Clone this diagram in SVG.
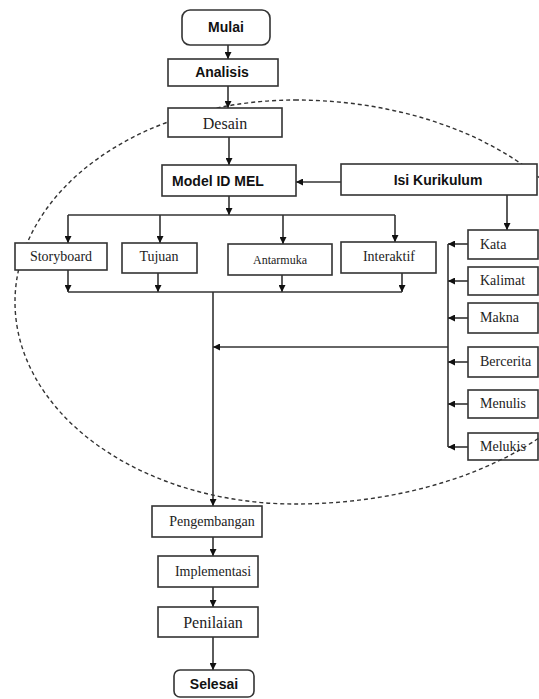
<svg xmlns="http://www.w3.org/2000/svg" width="539" height="699" viewBox="0 0 539 699">
<style>
.box{fill:#fff;stroke:#333;stroke-width:1.6}
.boxn{fill:none;stroke:#333;stroke-width:1.6}
.b{font-family:"Liberation Sans",Arial,sans-serif;font-weight:bold;font-size:14px;fill:#111;text-anchor:middle}
.s{font-family:"Liberation Serif","Times New Roman",serif;font-size:14px;fill:#222;text-anchor:middle}
.sl{font-family:"Liberation Serif","Times New Roman",serif;font-size:14px;fill:#222;text-anchor:start}
.ln{fill:none;stroke:#333;stroke-width:1.6}
.dash{fill:none;stroke:#333;stroke-width:1.4;stroke-dasharray:4 3}
</style>
<defs>
<marker id="ah" viewBox="0 0 10 10" refX="10" refY="5" markerWidth="7" markerHeight="7" markerUnits="userSpaceOnUse" orient="auto">
<path d="M0,0 L10,5 L0,10 z" fill="#111"/>
</marker>
</defs>
<rect width="539" height="699" fill="#fff"/>
<path class="dash" d="M295,100 A310,202 0 0 1 605,302 L625,302 A330,202 0 0 1 295,504 A280,202 0 0 1 15,302 A280,202 0 0 1 295,100 Z"/>
<g id="connectors">
<line class="ln" x1="228" y1="45" x2="228" y2="59" marker-end="url(#ah)"/>
<line class="ln" x1="228" y1="86" x2="228" y2="108" marker-end="url(#ah)"/>
<line class="ln" x1="229" y1="137" x2="229" y2="165" marker-end="url(#ah)"/>
<line class="ln" x1="341" y1="182" x2="296" y2="182" marker-end="url(#ah)"/>
<line class="ln" x1="229" y1="196" x2="229" y2="215" marker-end="url(#ah)"/>
<line class="ln" x1="68" y1="215" x2="395" y2="215"/>
<line class="ln" x1="68" y1="215" x2="68" y2="243" marker-end="url(#ah)"/>
<line class="ln" x1="160" y1="215" x2="160" y2="243" marker-end="url(#ah)"/>
<line class="ln" x1="283" y1="215" x2="283" y2="244" marker-end="url(#ah)"/>
<line class="ln" x1="395" y1="215" x2="395" y2="242" marker-end="url(#ah)"/>
<line class="ln" x1="68" y1="270" x2="68" y2="292" marker-end="url(#ah)"/>
<line class="ln" x1="158" y1="273" x2="158" y2="292" marker-end="url(#ah)"/>
<line class="ln" x1="282" y1="275" x2="282" y2="292" marker-end="url(#ah)"/>
<line class="ln" x1="402" y1="273" x2="402" y2="292" marker-end="url(#ah)"/>
<line class="ln" x1="68" y1="292" x2="402" y2="292"/>
<line class="ln" x1="213" y1="292" x2="213" y2="506" marker-end="url(#ah)"/>
<line class="ln" x1="507" y1="195" x2="507" y2="230" marker-end="url(#ah)"/>
<line class="ln" x1="448" y1="244" x2="448" y2="447"/>
<line class="ln" x1="468" y1="244" x2="448" y2="244" marker-end="url(#ah)"/>
<line class="ln" x1="468" y1="281" x2="448" y2="281" marker-end="url(#ah)"/>
<line class="ln" x1="468" y1="318" x2="448" y2="318" marker-end="url(#ah)"/>
<line class="ln" x1="468" y1="362" x2="448" y2="362" marker-end="url(#ah)"/>
<line class="ln" x1="468" y1="404" x2="448" y2="404" marker-end="url(#ah)"/>
<line class="ln" x1="468" y1="447" x2="448" y2="447" marker-end="url(#ah)"/>
<line class="ln" x1="448" y1="347" x2="213" y2="347" marker-end="url(#ah)"/>
<line class="ln" x1="213" y1="537" x2="213" y2="556" marker-end="url(#ah)"/>
<line class="ln" x1="213" y1="587" x2="213" y2="607" marker-end="url(#ah)"/>
<line class="ln" x1="213" y1="637" x2="213" y2="670" marker-end="url(#ah)"/>
</g>
<g id="mulai"><rect class="box" x="182" y="10" width="88" height="35" rx="8"/><text class="b" x="226" y="32">Mulai</text></g>
<g id="analisis"><rect class="box" x="168" y="59" width="110" height="27"/><text class="b" x="222" y="77">Analisis</text></g>
<g id="desain"><rect class="box" x="168" y="108" width="114" height="29"/><text class="s" x="225" y="129" style="font-size:16px">Desain</text></g>
<g id="model"><rect class="box" x="162" y="165" width="134" height="31"/><text class="b" x="218" y="186">Model ID MEL</text></g>
<g id="isi"><rect class="box" x="341" y="164" width="196" height="31"/><text class="b" x="438" y="185">Isi Kurikulum</text></g>
<g id="storyboard"><rect class="box" x="15" y="243" width="92" height="27"/><text class="s" x="61" y="261">Storyboard</text></g>
<g id="tujuan"><rect class="box" x="122" y="243" width="75" height="30"/><text class="s" x="159" y="261">Tujuan</text></g>
<g id="antarmuka"><rect class="box" x="228" y="244" width="104" height="31"/><text class="s" x="280" y="264" style="font-size:12px">Antarmuka</text></g>
<g id="interaktif"><rect class="box" x="341" y="242" width="95" height="31"/><text class="s" x="389" y="261">Interaktif</text></g>
<g id="kata"><rect class="box" x="468" y="230" width="70" height="29"/><text class="sl" x="480" y="249">Kata</text></g>
<g id="kalimat"><rect class="box" x="468" y="267" width="70" height="28"/><text class="sl" x="480" y="285">Kalimat</text></g>
<g id="makna"><rect class="box" x="468" y="303" width="70" height="30"/><text class="sl" x="480" y="322">Makna</text></g>
<g id="bercerita"><rect class="box" x="468" y="347" width="70" height="30"/><text class="sl" x="480" y="366">Bercerita</text></g>
<g id="menulis"><rect class="box" x="468" y="390" width="70" height="28"/><text class="sl" x="480" y="408">Menulis</text></g>
<g id="melukis"><rect class="boxn" x="468" y="433" width="70" height="27"/><text class="sl" x="480" y="451">Melukis</text></g>
<g id="pengembangan"><rect class="box" x="152" y="506" width="110" height="31"/><text class="s" x="212" y="526">Pengembangan</text></g>
<g id="implementasi"><rect class="box" x="158" y="556" width="100" height="31"/><text class="s" x="213" y="576">Implementasi</text></g>
<g id="penilaian"><rect class="box" x="158" y="607" width="100" height="30"/><text class="s" x="213" y="628" style="font-size:16px">Penilaian</text></g>
<g id="selesai"><rect class="box" x="174" y="670" width="80" height="27" rx="6"/><text class="b" x="214" y="689">Selesai</text></g>
</svg>
